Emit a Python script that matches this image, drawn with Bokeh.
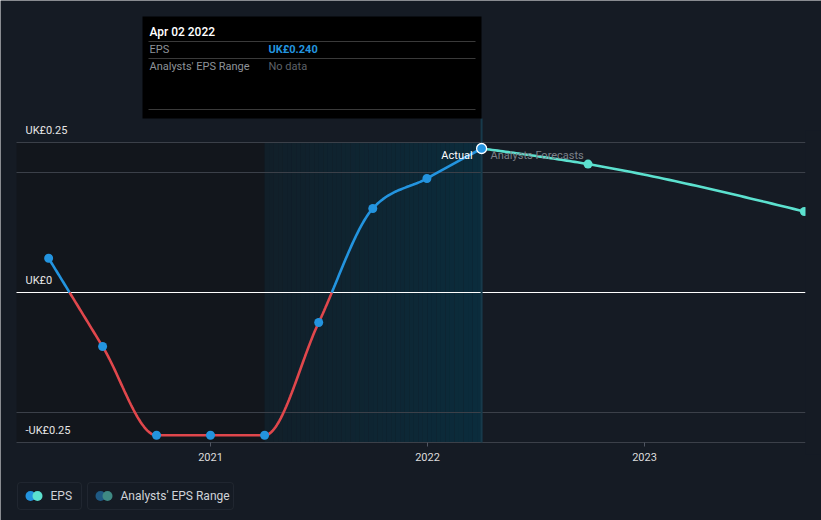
import numpy as np
import pandas as pd
from bokeh.plotting import figure
from bokeh.models import Range1d, BoxAnnotation
from bokeh.core.properties import value
from bokeh.embed import file_html
from bokeh.resources import INLINE

# ---------------- data ----------------
actual_dates = ["2020-04-03", "2020-07-03", "2020-10-02", "2021-01-01", "2021-04-02",
                "2021-07-02", "2021-10-01", "2021-12-31", "2022-04-02"]
actual_eps = [0.057, -0.090, -0.238, -0.238, -0.238, -0.050, 0.140, 0.190, 0.240]
forecast_dates = ["2022-04-02", "2022-09-28", "2023-09-27"]
forecast_eps = [0.240, 0.214, 0.135]
year_ticks = [2021, 2022, 2023]
y_label_vals = [0.25, 0.0, -0.25]
y_label_text = ["UK£0.25", "UK£0", "-UK£0.25"]
grid_vals = [0.25, 0.20, -0.20, -0.25]

# ---------------- helpers ----------------
def fyear(s):
    t = pd.Timestamp(s)
    n = 366 if t.is_leap_year else 365
    return t.year + (t.dayofyear - 1) / n

PXY = 217.0          # px per year
PXV = 600.0          # px per unit EPS
X0 = 2021 - 210 / PXY
Y0 = 292 / PXV
def X(px): return X0 + px / PXY
def Y(py): return Y0 - py / PXV

def monotone(xs, ys, n=40):
    xs = np.asarray(xs, float); ys = np.asarray(ys, float)
    m = len(xs)
    h = np.diff(xs); s = np.diff(ys) / h
    t = np.zeros(m)
    for i in range(1, m - 1):
        p = (s[i - 1] * h[i] + s[i] * h[i - 1]) / (h[i - 1] + h[i])
        v = (np.sign(s[i - 1]) + np.sign(s[i])) * min(abs(s[i - 1]), abs(s[i]), 0.5 * abs(p))
        t[i] = v
    t[0] = (3 * s[0] - t[1]) / 2 if m > 2 else s[0]
    t[-1] = (3 * s[-1] - t[-2]) / 2 if m > 2 else s[-1]
    ox, oy = [xs[0]], [ys[0]]
    u = np.linspace(0, 1, n + 1)[1:]
    for i in range(m - 1):
        dx = h[i]
        P = [(xs[i], ys[i]), (xs[i] + dx / 3, ys[i] + dx * t[i] / 3),
             (xs[i + 1] - dx / 3, ys[i + 1] - dx * t[i + 1] / 3), (xs[i + 1], ys[i + 1])]
        for uu in u:
            a = (1 - uu) ** 3; b = 3 * uu * (1 - uu) ** 2; c = 3 * uu ** 2 * (1 - uu); d = uu ** 3
            ox.append(a * P[0][0] + b * P[1][0] + c * P[2][0] + d * P[3][0])
            oy.append(a * P[0][1] + b * P[1][1] + c * P[2][1] + d * P[3][1])
    return np.array(ox), np.array(oy)

def split_sign(xs, ys):
    segs = []
    cx, cy = [xs[0]], [ys[0]]
    cur = ys[0] >= 0
    for i in range(1, len(xs)):
        pos = ys[i] >= 0
        if pos != cur:
            f = ys[i - 1] / (ys[i - 1] - ys[i])
            xz = xs[i - 1] + f * (xs[i] - xs[i - 1])
            cx.append(xz); cy.append(0.0)
            segs.append((cx, cy, cur))
            cx, cy = [xz, xs[i]], [0.0, ys[i]]
            cur = pos
        else:
            cx.append(xs[i]); cy.append(ys[i])
    segs.append((cx, cy, cur))
    return segs

ax = [fyear(d) for d in actual_dates]
fx = [fyear(d) for d in forecast_dates]

BG = "#151b24"
BLUE = "#2394df"
RED = "#e0474c"
TEAL = "#5ce1cf"
FONT = value("Roboto")

p = figure(width=821, height=520, output_backend="svg", toolbar_location=None,
           x_range=Range1d(X0, X(821)), y_range=Range1d(Y(520), Y(0)),
           min_border=0, background_fill_color=BG, border_fill_color=BG,
           outline_line_color=None)
p.xaxis.visible = False
p.yaxis.visible = False
p.grid.visible = False

left, right = X(16), X(805)
top, bottom = max(y_label_vals), min(y_label_vals)

# darker past region
p.quad(left=[left], right=[ax[-5]], top=[top], bottom=[bottom], fill_color="#12161c", line_color=None)

# gradient band (last 12 months of actuals)
nstrip = 48
edges = np.linspace(ax[-5], ax[-1], nstrip + 1)
c0 = np.array([0x11, 0x1f, 0x29]); c1 = np.array([0x0b, 0x2c, 0x3c])
cols = ["#%02x%02x%02x" % tuple(int(round(v)) for v in c0 + (c1 - c0) * k / (nstrip - 1)) for k in range(nstrip)]
p.quad(left=edges[:-1], right=edges[1:] + 1e-4, top=top, bottom=bottom, fill_color=cols, line_color=None)

# grid lines
for g in grid_vals:
    p.line([left, right], [g, g], line_color="#3b4049", line_width=1)
p.line([left, right], [0, 0], line_color="#ffffff", line_width=1.2)

# x ticks + labels
for yv in year_ticks:
    p.line([yv, yv], [bottom, bottom - 4 / PXV], line_color="#505662", line_width=1)
p.text(x=year_ticks, y=[bottom - 14 / PXV] * 3, text=[str(v) for v in year_ticks],
       text_align="center", text_baseline="middle", text_font=FONT, text_font_size="11px",
       text_color="#dcdcdc")

# y labels
p.text(x=[X(25)] * 3, y=[v + 12 / PXV for v in y_label_vals], text=y_label_text,
       text_align="left", text_baseline="middle", text_font=FONT, text_font_size="11px",
       text_color="#e6e6e6")

# hover line
p.line([ax[-1], ax[-1]], [bottom, Y(118)], line_color="#173a4b", line_width=2)

# actual curve
cx, cy = monotone(ax, actual_eps)
segs = split_sign(cx, cy)
p.multi_line(xs=[s[0] for s in segs], ys=[s[1] for s in segs],
             line_color=[BLUE if s[2] else RED for s in segs], line_width=2.6)

# forecast curve
fcx, fcy = monotone(fx, forecast_eps)
p.line(fcx, fcy, line_color=TEAL, line_width=2.6)
p.scatter(fx[1:], forecast_eps[1:], size=9, fill_color=TEAL, line_color=None)

p.scatter(ax[:-1], actual_eps[:-1], size=9, fill_color=BLUE, line_color=None)
p.scatter([ax[-1]], [actual_eps[-1]], size=10, fill_color=BLUE, line_color="#ffffff", line_width=1.3)

# clip everything right of the plot area
p.quad(left=[right], right=[X(821)], top=[top + 0.02], bottom=[bottom - 0.02], fill_color=BG, line_color=None)

# Actual / Analysts Forecasts labels
p.text(x=[ax[-1]], y=[actual_eps[-1]], text=["Actual"], x_offset=-9, y_offset=7,
       text_align="right", text_baseline="middle", text_font=FONT, text_font_size="11px",
       text_color="#ffffff")
p.text(x=[ax[-1]], y=[actual_eps[-1]], text=["Analysts Forecasts"], x_offset=9, y_offset=7,
       text_align="left", text_baseline="middle", text_font=FONT, text_font_size="11px",
       text_color="#7d828a")

# tooltip box
p.quad(left=[X(142)], right=[X(481)], top=[Y(16)], bottom=[Y(118)], fill_color="#000000", line_color=None)
for yy in [41, 58, 109]:
    p.line([X(148), X(475)], [Y(yy), Y(yy)], line_color="#3a3a3a", line_width=1)
date_txt = pd.Timestamp(actual_dates[-1]).strftime("%b %d %Y")
p.text(x=[X(149)], y=[Y(31)], text=[date_txt], text_align="left", text_baseline="middle",
       text_font=value("Roboto Medium"), text_font_size="12px", text_color="#ffffff")
p.text(x=[X(149), X(149)], y=[Y(49), Y(66)], text=["EPS", "Analysts' EPS Range"],
       text_align="left", text_baseline="middle", text_font=FONT, text_font_size="11px",
       text_color="#8e9399")
p.text(x=[X(268)], y=[Y(49)], text=["UK£%.3f" % actual_eps[-1]], text_align="left",
       text_baseline="middle", text_font=FONT, text_font_size="11px", text_color=BLUE,
       text_font_style="bold")
p.text(x=[X(268)], y=[Y(66)], text=["No data"], text_align="left", text_baseline="middle",
       text_font=FONT, text_font_size="11px", text_color="#5e6268")

# legend
for l, r in [(17, 81), (87, 233)]:
    p.add_layout(BoxAnnotation(left=X(l), right=X(r), top=Y(482), bottom=Y(509),
                               fill_alpha=0, line_color="#3c424c", line_width=1, border_radius=3))
p.scatter([X(30), X(37)], [Y(495.5)] * 2, size=10, fill_color=[BLUE, TEAL], line_color=None)
p.scatter([X(100), X(107)], [Y(495.5)] * 2, size=10, fill_color=["#1f5a84", "#3f8a84"], line_color=None)
p.text(x=[X(50), X(120)], y=[Y(495.5)] * 2, text=["EPS", "Analysts' EPS Range"],
       text_align="left", text_baseline="middle", text_font=FONT, text_font_size="12px",
       text_color="#d0d3d8")

open("out.html", "w").write(file_html(p, INLINE))
